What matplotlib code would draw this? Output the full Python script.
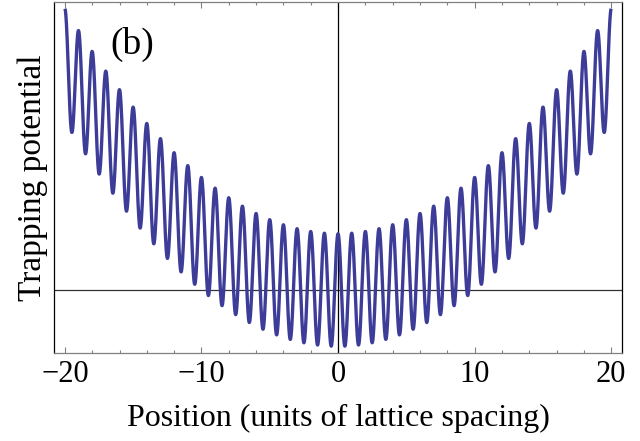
import numpy as np
import matplotlib
matplotlib.use("Agg")
import matplotlib.pyplot as plt
from matplotlib.ticker import MultipleLocator

# values: harmonic trap plus a lattice of unit spacing
x_min, x_max = -20, 20
trap_curvature = 0.01      # potential rises to ~5 at +/-20
lattice_depth = 1.0        # peak at x=0 is ~1, deepest wells ~-1
x_ticks = [-20, -10, 0, 10, 20]

x = np.linspace(x_min, x_max, 4000)
v = trap_curvature * x**2 + lattice_depth * np.cos(2 * np.pi * x)

plt.rcParams['font.family'] = ['Liberation Serif', 'DejaVu Serif']

fig = plt.figure(figsize=(6.4, 4.41), dpi=100)
ax = fig.add_axes([0.0844, 0.1995, 0.8876, 0.796])

ax.plot(x, v, color='#3d3d99', lw=2.4, solid_capstyle='butt', zorder=3)
ax.axhline(0, color='#333333', lw=0.9, zorder=2)
ax.axvline(0, color='black', lw=0.9, zorder=2)

ax.set_xlim(-20.8, 20.8)
ax.set_ylim(-1.12, 5.12)

ax.set_xticks(x_ticks)
ax.xaxis.set_minor_locator(MultipleLocator(2))
ax.set_yticks([])
ax.tick_params(axis='x', which='both', direction='in', top=True, bottom=True,
               color='#808080', width=0.8)
ax.tick_params(axis='x', which='major', length=4.5, labelsize=22, pad=5)
ax.tick_params(axis='x', which='minor', length=2.5)

for side in ['top', 'bottom']:
    ax.spines[side].set_color('#808080')
    ax.spines[side].set_linewidth(0.9)
for side in ['left', 'right']:
    ax.spines[side].set_color('black')
    ax.spines[side].set_linewidth(0.9)

ax.set_xlabel('Position (units of lattice spacing)', fontsize=23, labelpad=11)
ax.set_ylabel('Trapping potential', fontsize=24, labelpad=4)
ax.text(-15.1, 4.36, '(b)', fontsize=27, ha='center', va='center')

fig.savefig('out.png', dpi=100)
